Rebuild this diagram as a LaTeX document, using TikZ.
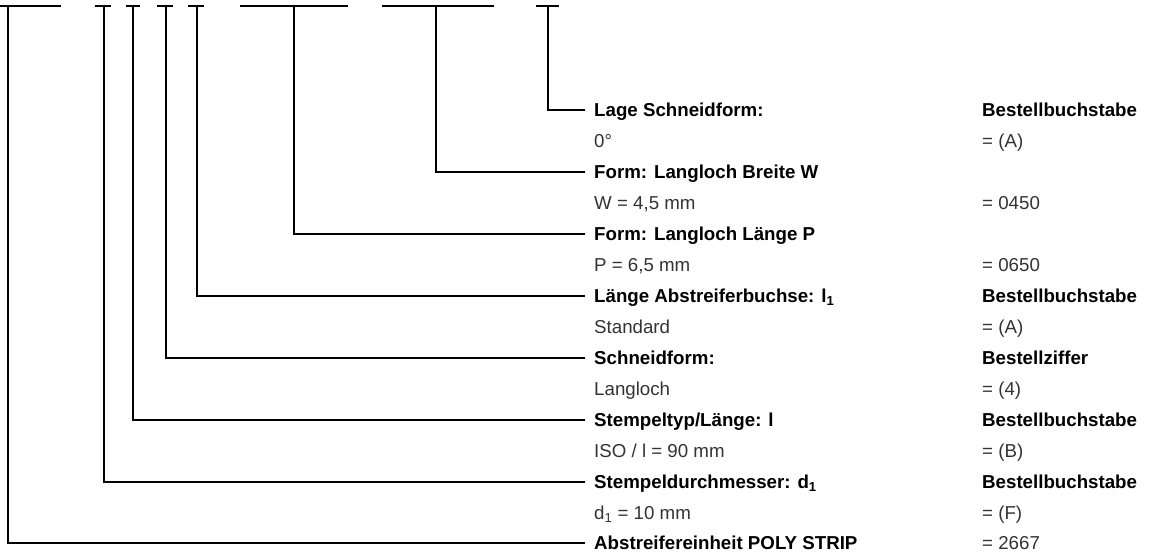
\documentclass[tikz,border=0pt]{standalone}
\usepackage{fontspec}
\setmainfont{Liberation Sans}
\newcommand{\fsz}{\fontsize{18.7}{22}\selectfont}
\begin{document}
\begin{tikzpicture}[x=1pt,y=-1pt,
  conn/.style={line width=1.3pt, draw=black},
  head/.style={anchor=west, inner xsep=9pt, inner ysep=0pt, text height=13.4pt, text depth=0pt, font=\fsz\bfseries, text=black},
  val/.style={anchor=west, inner sep=0pt, text height=13.4pt, text depth=0pt, font=\fsz, text=black!80},
  rhead/.style={anchor=west, inner sep=0pt, text height=13.4pt, text depth=0pt, font=\fsz\bfseries, text=black}]
\useasboundingbox (0,0) rectangle (1156,553);

% headings (row centres)
\node[head] (h1) at (585,110)   {Lage Schneidform:};
\node[head] (h2) at (585,172)   {Form: Langloch Breite W};
\node[head] (h3) at (585,234)   {Form: Langloch Länge P};
\node[head] (h4) at (585,296)   {Länge Abstreiferbuchse: l\textsubscript{1}};
\node[head] (h5) at (585,358)   {Schneidform:};
\node[head] (h6) at (585,420)   {Stempeltyp/Länge: l};
\node[head] (h7) at (585,482)   {Stempeldurchmesser: d\textsubscript{1}};
\node[head] (h8) at (585,543)   {Abstreifereinheit POLY STRIP};

% values
\node[val] (v1) at (594,141)   {0°};
\node[val] (v2) at (594,203)   {W = 4,5 mm};
\node[val] (v3) at (594,265)   {P = 6,5 mm};
\node[val] (v4) at (594,327)   {Standard};
\node[val] (v5) at (594,389)   {Langloch};
\node[val] (v6) at (594,451)   {ISO / l = 90 mm};
\node[val] (v7) at (594,513)   {d\textsubscript{1} = 10 mm};

% right column
\node[rhead] (r1) at (982,110) {Bestellbuchstabe};
\node[val]   (s1) at (982,141) {= (A)};
\node[val]   (s2) at (982,203) {= 0450};
\node[val]   (s3) at (982,265) {= 0650};
\node[rhead] (r4) at (982,296) {Bestellbuchstabe};
\node[val]   (s4) at (982,327) {= (A)};
\node[rhead] (r5) at (982,358) {Bestellziffer};
\node[val]   (s5) at (982,389) {= (4)};
\node[rhead] (r6) at (982,420) {Bestellbuchstabe};
\node[val]   (s6) at (982,451) {= (B)};
\node[rhead] (r7) at (982,482) {Bestellbuchstabe};
\node[val]   (s7) at (982,513) {= (F)};
\node[val]   (s8) at (982,543) {= 2667};

% top bars and drop points
\coordinate (a1) at (0,6);   \coordinate (b1) at (61,6);  \coordinate (c1) at (8,6);
\coordinate (a2) at (95,6);  \coordinate (b2) at (111,6); \coordinate (c2) at (104,6);
\coordinate (a3) at (126,6); \coordinate (b3) at (140,6); \coordinate (c3) at (133,6);
\coordinate (a4) at (157,6); \coordinate (b4) at (173,6); \coordinate (c4) at (166,6);
\coordinate (a5) at (188,6); \coordinate (b5) at (204,6); \coordinate (c5) at (197,6);
\coordinate (a6) at (240,6); \coordinate (b6) at (348,6); \coordinate (c6) at (294,6);
\coordinate (a7) at (382,6); \coordinate (b7) at (494,6); \coordinate (c7) at (436,6);
\coordinate (a8) at (536,6); \coordinate (b8) at (559,6); \coordinate (c8) at (548,6);

\foreach \i in {1,...,8} {\draw[conn] (a\i) -- (b\i);}

\draw[conn] (c1) |- (h8.west);
\draw[conn] (c2) |- (h7.west);
\draw[conn] (c3) |- (h6.west);
\draw[conn] (c4) |- (h5.west);
\draw[conn] (c5) |- (h4.west);
\draw[conn] (c6) |- (h3.west);
\draw[conn] (c7) |- (h2.west);
\draw[conn] (c8) |- (h1.west);
\end{tikzpicture}
\end{document}
